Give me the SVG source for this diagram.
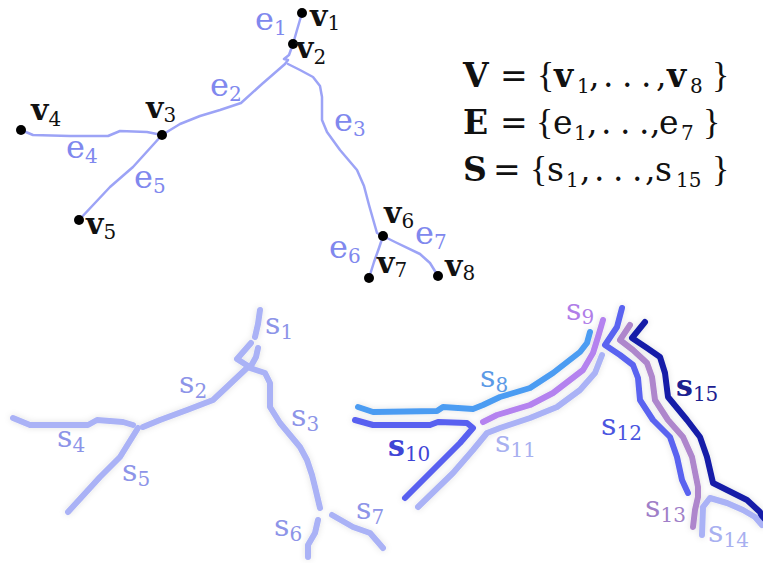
<svg xmlns="http://www.w3.org/2000/svg" width="763" height="563" viewBox="0 0 763 563">
<defs>
<filter id="glow" x="-20%" y="-20%" width="140%" height="140%">
<feGaussianBlur in="SourceAlpha" stdDeviation="3" result="b"/>
<feFlood flood-color="#000" flood-opacity="0.12"/>
<feComposite in2="b" operator="in" result="s"/>
<feMerge><feMergeNode in="s"/><feMergeNode in="SourceGraphic"/></feMerge>
</filter>
</defs>
<style>
.edge{fill:none;stroke:#9ca3f6;stroke-width:2.5;stroke-linecap:round;stroke-linejoin:round}
.seg{fill:none;stroke-width:6;stroke-linecap:round;stroke-linejoin:round}
.light{stroke:#aab2f6}
.node{fill:#000}
.vl{font-family:"DejaVu Serif","Liberation Serif",serif;font-weight:bold;font-size:30px;fill:#111}
.sub{font-family:"DejaVu Serif","Liberation Serif",serif;font-weight:normal;font-size:20px}
.el{font-family:"DejaVu Serif","Liberation Serif",serif;font-size:32px;fill:#8088ee}
.sl{font-family:"DejaVu Serif","Liberation Serif",serif;font-size:30px}
.fm{font-family:"DejaVu Serif","Liberation Serif",serif;font-size:33px;fill:#111}
.br{font-family:"Liberation Serif",serif;font-size:36px}
.fb{font-weight:bold}
</style>

<g id="connectors">
<path id="e1" class="edge" d="M302,13 L297,30 L293,44"/>
<path id="e2" class="edge" d="M293,44 L289,55 L284,59 L288,60 L285,64 L262,84 L241,103 L220,110 L200,116 L180,124 L162,135"/>
<path id="e3" class="edge" d="M288,64 L300,70 L313,77 L320,86 L322,97 L322,120 L327,132 L340,150 L357,170 L364,186 L369,205 L377,233 L383,236"/>
<path id="e4" class="edge" d="M21,130 L33,135 L70,136 L108,136 L120,131 L147,132 L162,135"/>
<path id="e5" class="edge" d="M162,135 L133,167 L110,187 L79,220"/>
<path id="e6" class="edge" d="M383,236 L379,248 L374,262 L369,278"/>
<path id="e7" class="edge" d="M383,236 L395,242 L420,254 L430,263 L438,276"/>
<text class="el" x="255" y="30">e<tspan class="sub" dy="5">1</tspan></text>
<text class="el" x="210" y="96">e<tspan class="sub" dy="5">2</tspan></text>
<text class="el" x="334" y="131">e<tspan class="sub" dy="5">3</tspan></text>
<text class="el" x="66" y="158">e<tspan class="sub" dy="5">4</tspan></text>
<text class="el" x="134" y="188">e<tspan class="sub" dy="5">5</tspan></text>
<text class="el" x="329" y="258">e<tspan class="sub" dy="5">6</tspan></text>
<text class="el" x="415" y="244">e<tspan class="sub" dy="5">7</tspan></text>
</g>

<g id="v1"><circle class="node" cx="302" cy="13" r="5"/><text class="vl" x="310" y="26" font-size="28">v<tspan class="sub" dy="4">1</tspan></text></g>
<g id="v2"><circle class="node" cx="293" cy="44" r="5"/><text class="vl" x="296" y="58">v<tspan class="sub" dy="6">2</tspan></text></g>
<g id="v3"><circle class="node" cx="162" cy="135" r="5"/><text class="vl" x="146" y="118">v<tspan class="sub" dy="4">3</tspan></text></g>
<g id="v4"><circle class="node" cx="21" cy="130" r="5"/><text class="vl" x="31" y="120">v<tspan class="sub" dy="6">4</tspan></text></g>
<g id="v5"><circle class="node" cx="79" cy="220" r="5"/><text class="vl" x="86" y="234">v<tspan class="sub" dy="5">5</tspan></text></g>
<g id="v6"><circle class="node" cx="383" cy="236" r="5"/><text class="vl" x="384" y="223">v<tspan class="sub" dy="5">6</tspan></text></g>
<g id="v7"><circle class="node" cx="369" cy="278" r="5"/><text class="vl" x="377" y="273">v<tspan class="sub" dy="4">7</tspan></text></g>
<g id="v8"><circle class="node" cx="438" cy="276" r="5"/><text class="vl" x="445" y="276">v<tspan class="sub" dy="4">8</tspan></text></g>

<g id="formulas">
<text class="fm" y="87"><tspan class="fb" x="463">V</tspan><tspan x="500">=</tspan><tspan class="br" x="537">{</tspan><tspan class="fb" x="554">v</tspan><tspan class="sub" x="577" dy="6" font-size="21">1</tspan><tspan x="589" dy="-6">,</tspan><tspan x="603">.</tspan><tspan x="622">.</tspan><tspan x="641">.</tspan><tspan x="656">,</tspan><tspan class="fb" x="667">v</tspan><tspan class="sub" x="690" dy="6" font-size="21">8</tspan><tspan class="br" x="712" dy="-6">}</tspan></text>
<text class="fm" y="134"><tspan class="fb" x="463">E</tspan><tspan x="500">=</tspan><tspan class="br" x="536">{</tspan><tspan x="553">e</tspan><tspan class="sub" x="574" dy="6" font-size="21">1</tspan><tspan x="587" dy="-6">,</tspan><tspan x="601">.</tspan><tspan x="620">.</tspan><tspan x="639">.</tspan><tspan x="650">,</tspan><tspan x="659">e</tspan><tspan class="sub" x="681" dy="6" font-size="21">7</tspan><tspan class="br" x="703" dy="-6">}</tspan></text>
<text class="fm" y="181"><tspan class="fb" x="463">S</tspan><tspan x="493">=</tspan><tspan class="br" x="530">{</tspan><tspan x="547">s</tspan><tspan class="sub" x="566" dy="6" font-size="21">1</tspan><tspan x="580" dy="-6">,</tspan><tspan x="594">.</tspan><tspan x="613">.</tspan><tspan x="632">.</tspan><tspan x="645">,</tspan><tspan x="655">s</tspan><tspan class="sub" x="676" dy="6" font-size="21">15</tspan><tspan class="br" x="712" dy="-6">}</tspan></text>
</g>

<g id="segments-left" filter="url(#glow)">
<path id="s1" class="seg light" d="M260,310 L258,324 L255,337"/>
<path id="s1b" class="seg light" d="M251,343 L237,359 L248,366"/>
<path id="s1c" class="seg light" d="M258,348 L256,357 L251,366"/>
<path id="s2" class="seg light" d="M248,367 L230,384 L213,400 L187,410 L160,420 L143,427"/>
<path id="s3" class="seg light" d="M250,368 L265,373 L270,383 L270,407 L280,423 L300,447 L307,460 L312,475 L315,487 L320,508"/>
<path id="s4" class="seg light" d="M13,418 L30,425 L88,425 L97,420 L123,422 L133,425"/>
<path id="s5" class="seg light" d="M138,428 L120,457 L100,477 L68,512"/>
<path id="s6" class="seg light" d="M318,520 L315,533 L308,545 L308,557"/>
<path id="s7" class="seg light" d="M332,515 L353,527 L370,533 L383,548"/>
</g>

<g id="segments-right" filter="url(#glow)">
<path id="s8" class="seg" stroke="#4c9cf2" d="M358,407 L373,412 L437,411 L443,407 L473,409 L483,405 L500,397 L530,388 L553,373 L580,352 L587,343 L590,332"/>
<path id="s9" class="seg" stroke="#b482ef" d="M483,422 L497,415 L530,405 L553,393 L583,370 L593,353 L598,337 L603,320"/>
<path id="s10" class="seg" stroke="#5960f0" d="M355,420 L373,425 L430,425 L438,422 L467,423 L473,428 L460,443 L440,463 L405,498"/>
<path id="s11" class="seg light" d="M418,507 L453,473 L473,450 L487,433 L500,428 L530,418 L557,407 L580,390 L595,373 L602,355"/>
<path id="s12" class="seg" stroke="#5a63f0" d="M622,308 L617,327 L605,345 L620,355 L633,365 L638,378 L640,400 L653,420 L670,437 L677,457 L682,480 L688,493"/>
<path id="s13" class="seg" stroke="#ae86cc" d="M630,325 L620,340 L633,350 L647,363 L652,377 L655,400 L668,420 L683,437 L692,457 L698,487 L698,497 L695,510 L693,527"/>
<path id="s15" class="seg" stroke="#141ea8" d="M645,322 L632,338 L647,348 L660,357 L665,373 L668,397 L687,420 L700,437 L707,457 L713,483 L727,490 L747,500 L760,512 L763,520"/>
<path id="s14" class="seg light" d="M702,535 L703,507 L710,498 L727,503 L743,510 L755,517 L762,525"/>
</g>

<g id="segment-labels" class="sl">
<text x="265" y="334" fill="#8d94e8">s<tspan class="sub" dy="5">1</tspan></text>
<text x="179" y="393" fill="#8d94e8">s<tspan class="sub" dy="5">2</tspan></text>
<text x="291" y="426" fill="#8d94e8">s<tspan class="sub" dy="5">3</tspan></text>
<text x="57" y="447" fill="#8d94e8">s<tspan class="sub" dy="5">4</tspan></text>
<text x="122" y="481" fill="#8d94e8">s<tspan class="sub" dy="5">5</tspan></text>
<text x="274" y="536" fill="#8d94e8">s<tspan class="sub" dy="5">6</tspan></text>
<text x="356" y="519" fill="#8d94e8">s<tspan class="sub" dy="5">7</tspan></text>
<text x="480" y="387" fill="#5b9ae6">s<tspan class="sub" dy="5">8</tspan></text>
<text x="566" y="320" fill="#b07ee8">s<tspan class="sub" dy="4">9</tspan></text>
<text x="388" y="456" fill="#3f45d6" font-weight="bold">s<tspan class="sub" dy="5">10</tspan></text>
<text x="495" y="452" fill="#a8b0f0">s<tspan class="sub" dy="5">11</tspan></text>
<text x="601" y="435" fill="#4b55e0">s<tspan class="sub" dy="5">12</tspan></text>
<text x="645" y="517" fill="#a07fc8">s<tspan class="sub" dy="5">13</tspan></text>
<text x="708" y="542" fill="#a8b0f0">s<tspan class="sub" dy="5">14</tspan></text>
<text x="676" y="396" fill="#1c2090" font-weight="bold">s<tspan class="sub" dy="5">15</tspan></text>
</g>
</svg>
